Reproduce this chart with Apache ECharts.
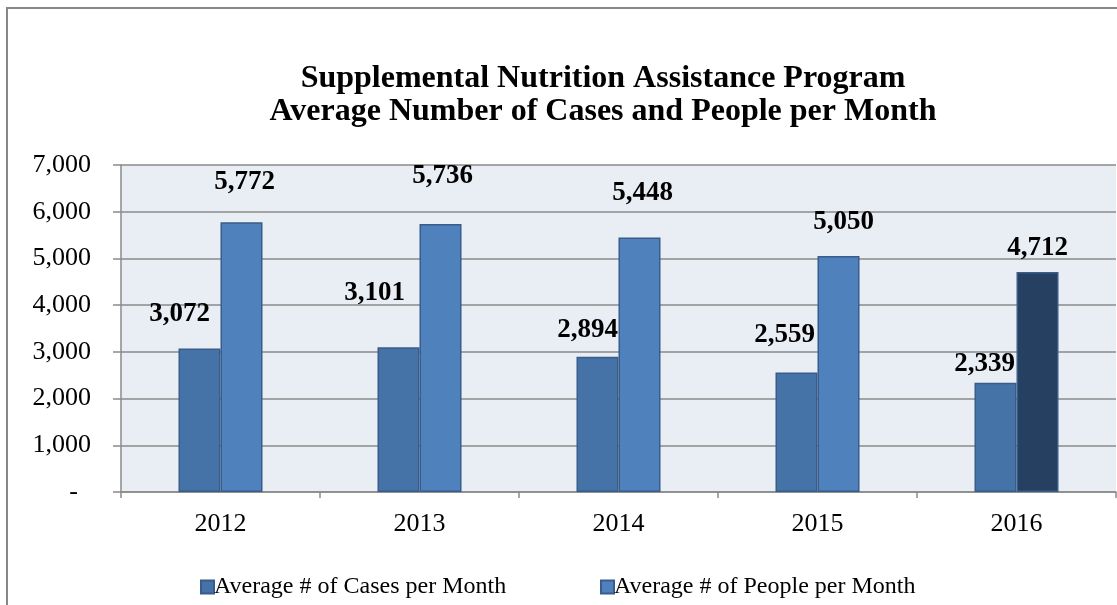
<!DOCTYPE html>
<html>
<head>
<meta charset="utf-8">
<title>SNAP cases and people</title>
<script src="https://cdn.jsdelivr.net/npm/echarts@6/dist/echarts.min.js"></script>
<style>
  html, body { margin: 0; padding: 0; background: #fff; }
  #chart { width: 1117px; height: 605px; }
</style>
</head>
<body>
<div id="chart"></div>
<script>
    var years = ["2012", "2013", "2014", "2015", "2016"];
    var cases = [3072, 3101, 2894, 2559, 2339];
    var people = [5772, 5736, 5448, 5050, 4712];
    var seriesNames = ["Average # of Cases per Month", "Average # of People per Month"];

    // hand placed labels, as in the excel original
    var caseLabelShift = [[-20, -21], [-24, -41], [-10, -14], [-12, -24], [-11, -6]];
    var peopleLabelShift = [[3, -27], [2, -35], [3, -31], [5, -21], [0, -11]];

    var serif = "'Liberation Serif', 'Times New Roman', serif";
    var gray = "#8a8a8a";

    function fmt(v) {
        return Number(v).toLocaleString("en-US");
    }

    var myChart = echarts.init(document.getElementById("chart"));

    var legendText = { fontFamily: serif, fontSize: 24, color: "#000", padding: [0, 0, 0, -5] };

    myChart.setOption({
        animation: false,
        title: {
            text: "Supplemental Nutrition Assistance Program\nAverage Number of Cases and People per Month",
            left: 603,
            textAlign: "center",
            top: 62,
            padding: 0,
            textStyle: {
                fontFamily: serif,
                fontSize: 32,
                fontWeight: "bold",
                color: "#000",
                lineHeight: 33
            }
        },
        graphic: [{
            type: "rect",
            shape: { x: 7, y: 8, width: 1300, height: 800 },
            style: { fill: null, stroke: "#878787", lineWidth: 2 },
            silent: true
        }],
        legend: [{
            data: [seriesNames[0]],
            left: 195,
            top: 570,
            icon: "rect",
            itemWidth: 13,
            itemHeight: 13,
            textStyle: legendText
        }, {
            data: [seriesNames[1]],
            left: 595,
            top: 570,
            icon: "rect",
            itemWidth: 13,
            itemHeight: 13,
            textStyle: legendText
        }],
        grid: {
            left: 121,
            right: 1,
            top: 165,
            bottom: 113,
            show: true,
            backgroundColor: "#E9EDF4",
            borderWidth: 0
        },
        xAxis: {
            type: "category",
            data: years,
            axisLine: { lineStyle: { color: gray, width: 1.5 } },
            axisTick: { show: true, length: 6, interval: 0, lineStyle: { color: gray, width: 1.5 } },
            axisLabel: { fontFamily: serif, fontSize: 26, color: "#000", margin: 19 }
        },
        yAxis: {
            type: "value",
            min: 0,
            max: 7000,
            interval: 1000,
            axisLine: { show: true, lineStyle: { color: gray, width: 1.5 } },
            axisTick: { show: true, length: 8, lineStyle: { color: gray, width: 1.5 } },
            splitLine: { lineStyle: { color: gray, width: 1.5 } },
            axisLabel: {
                fontFamily: serif,
                fontSize: 26,
                color: "#000",
                margin: 30,
                formatter: function (v) {
                    return v === 0 ? "-\u00a0\u00a0" : fmt(v);
                }
            }
        },
        series: [{
            name: seriesNames[0],
            type: "bar",
            barWidth: 42,
            barGap: "0%",
            itemStyle: { color: "#4572A7", borderColor: "#385D8A", borderWidth: 1.5 },
            data: cases.map(function (v, i) {
                return {
                    value: v,
                    label: { offset: caseLabelShift[i] }
                };
            }),
            label: {
                show: true,
                position: "top",
                distance: 0,
                fontFamily: serif,
                fontSize: 27,
                fontWeight: "bold",
                lineHeight: 26,
                color: "#000",
                formatter: function (p) { return fmt(p.value); }
            }
        }, {
            name: seriesNames[1],
            type: "bar",
            barWidth: 42,
            barGap: "0%",
            itemStyle: { color: "#4F81BD", borderColor: "#385D8A", borderWidth: 1.5 },
            data: people.map(function (v, i) {
                var item = { value: v, label: { offset: peopleLabelShift[i] } };
                if (i === people.length - 1) {
                    item.itemStyle = { color: "#254061", borderColor: "#385D8A" };
                }
                return item;
            }),
            label: {
                show: true,
                position: "top",
                distance: 0,
                fontFamily: serif,
                fontSize: 27,
                fontWeight: "bold",
                lineHeight: 26,
                color: "#000",
                formatter: function (p) { return fmt(p.value); }
            }
        }]
    });
</script>
</body>
</html>
